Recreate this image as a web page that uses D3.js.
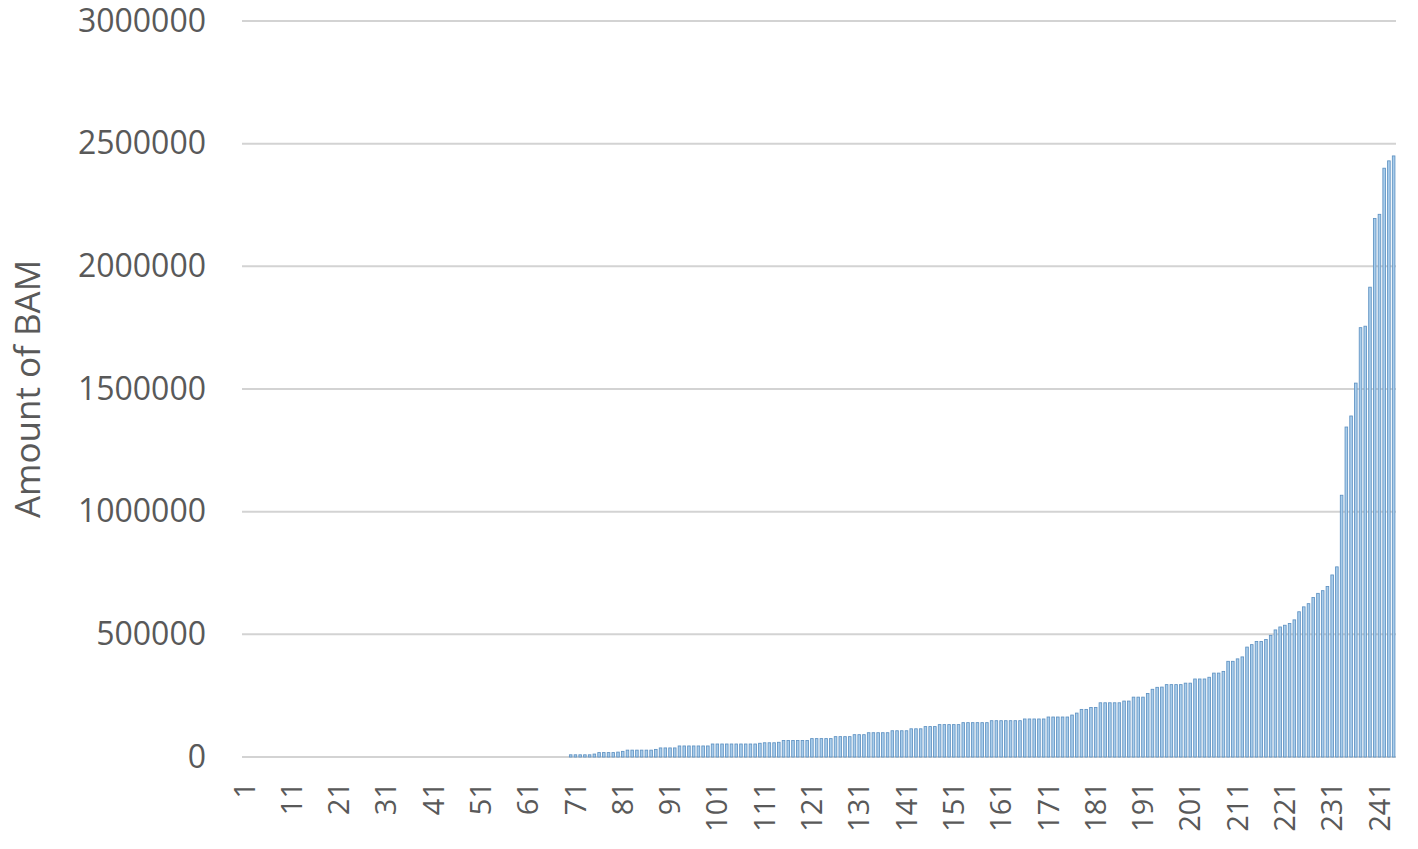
<!DOCTYPE html>
<html>
<head>
<meta charset="utf-8">
<script src="https://cdn.jsdelivr.net/npm/d3@7"></script>
<style>
  html, body { margin: 0; padding: 0; background: #ffffff; }
  svg { display: block; }
</style>
</head>
<body>
<svg id="chart" width="1418" height="849"></svg>
<script>
// ---- data ----
const categories = d3.range(1, 245).map(String);

const values = [
  // 1-69
  0,0,0,0,0,0,0,0,0,0, 0,0,0,0,0,0,0,0,0,0,
  0,0,0,0,0,0,0,0,0,0, 0,0,0,0,0,0,0,0,0,0,
  0,0,0,0,0,0,0,0,0,0, 0,0,0,0,0,0,0,0,0,0,
  0,0,0,0,0,0,0,0,0,
  // 70-109
  9000,9000,9000,9000,9000,12000,18000,18000,18000,18000,
  20000,23000,28000,28000,28000,28000,28000,28000,31000,37000,
  37000,37000,37000,45000,45000,45000,45000,45000,45000,45000,
  53000,53000,53000,53000,53000,53000,53000,53000,53000,53000,
  // 110-152
  56000,58000,58000,58000,60000,67000,67000,67000,67000,67000,
  67000,75000,75000,75000,75000,75000,83000,83000,83000,83000,
  91000,91000,91000,99000,99000,99000,99000,99000,107000,107000,
  107000,107000,115000,115000,115000,124000,124000,124000,132000,132000,
  132000,132000,132000,
  // 153-194
  140000,140000,140000,140000,140000,140000,148000,148000,148000,148000,
  148000,148000,148000,155000,155000,155000,155000,155000,163000,163000,
  163000,163000,163000,171000,179000,194000,194000,202000,202000,221000,
  221000,221000,221000,221000,228000,228000,244000,244000,244000,259000,
  276000,284000,
  // 195-224
  285000,295000,295000,295000,295000,301000,301000,318000,318000,318000,
  325000,342000,342000,349000,390000,390000,400000,408000,448000,458000,
  471000,471000,479000,496000,518000,530000,537000,544000,559000,592000,
  // 225-244
  612000,625000,650000,667000,678000,695000,742000,775000,1067000,1345000,
  1390000,1524000,1750000,1756000,1915000,2195000,2212000,2400000,2430000,2450000
];

const yTicks = [0, 500000, 1000000, 1500000, 2000000, 2500000, 3000000];
const xTickLabels = ["1","11","21","31","41","51","61","71","81","91","101","111",
  "121","131","141","151","161","171","181","191","201","211","221","231","241"];
const yTitle = "Amount of BAM";

// ---- layout ----
const svg = d3.select("#chart");
const plot = { left: 242, right: 1396, top: 21, bottom: 757 };
const textColor = "#595959";
const font = "'Open Sans', 'DejaVu Sans', sans-serif";

svg.append("rect").attr("width", 1418).attr("height", 849).attr("fill", "#ffffff");

const x = d3.scaleBand()
  .domain(categories)
  .range([plot.left, plot.right])
  .paddingInner(0.45)
  .paddingOuter(0.225);

const y = d3.scaleLinear()
  .domain([0, 3000000])
  .range([plot.bottom, plot.top]);

// gridlines
svg.append("g")
  .selectAll("line")
  .data(yTicks)
  .join("line")
  .attr("x1", plot.left)
  .attr("x2", plot.right)
  .attr("y1", d => y(d))
  .attr("y2", d => y(d))
  .attr("stroke", "#d3d3d3")
  .attr("stroke-width", 2);

// y axis labels
const yAxis = d3.axisLeft(y).tickValues(yTicks).tickSize(0).tickPadding(36).tickFormat(d3.format("d"));
const gy = svg.append("g").attr("transform", `translate(${plot.left},0)`).call(yAxis);
gy.select(".domain").remove();
gy.selectAll("text")
  .attr("fill", textColor)
  .style("font-family", font)
  .style("font-size", "32px");

// bars
svg.append("g")
  .selectAll("rect")
  .data(values)
  .join("rect")
  .attr("x", (d, i) => x(categories[i]))
  .attr("width", x.bandwidth())
  .attr("y", d => y(d))
  .attr("height", d => y(0) - y(d))
  .attr("fill", "#a9cdeb")
  .attr("stroke", "#5f92c2")
  .attr("stroke-width", 0.85);

// x axis labels
const xAxis = d3.axisBottom(x).tickValues(xTickLabels).tickSize(0).tickPadding(0);
const gx = svg.append("g").attr("transform", `translate(0,${plot.bottom})`).call(xAxis);
gx.select(".domain").remove();
gx.selectAll("text")
  .attr("fill", textColor)
  .style("font-family", font)
  .style("font-size", "29px")
  .attr("text-anchor", "end")
  .attr("transform", "rotate(-90)")
  .attr("x", -25)
  .attr("y", 0)
  .attr("dy", "0.35em");

// y title
svg.append("text")
  .attr("transform", `translate(40,${(plot.top + plot.bottom) / 2}) rotate(-90)`)
  .attr("text-anchor", "middle")
  .attr("fill", textColor)
  .style("font-family", font)
  .style("font-size", "35px")
  .text(yTitle);
</script>
</body>
</html>
